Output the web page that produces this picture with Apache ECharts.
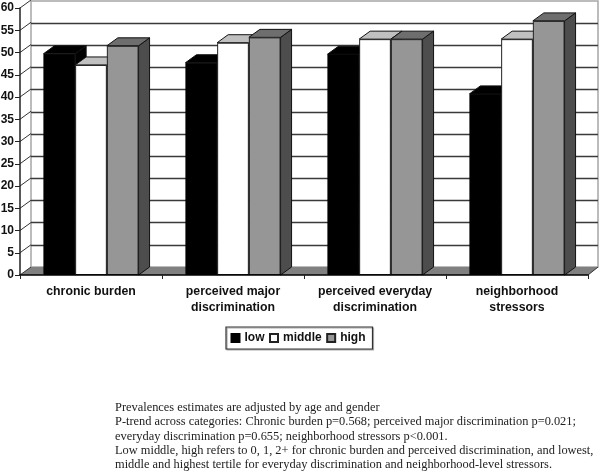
<!DOCTYPE html>
<html>
<head>
<meta charset="utf-8">
<style>html,body{margin:0;padding:0;background:#fff}#c{width:600px;height:472px}</style>
<script src="https://cdn.jsdelivr.net/npm/echarts@6/dist/echarts.min.js"></script>
</head>
<body>
<div id="c"></div>
<script>
var categories = ['chronic burden', 'perceived major\ndiscrimination', 'perceived everyday\ndiscrimination', 'neighborhood\nstressors'];
var low = [49.7, 47.7, 49.6, 40.7];
var middle = [47.2, 52.2, 53.0, 53.0];
var high = [51.5, 53.4, 53.0, 57.1];
var yTicks = [0, 5, 10, 15, 20, 25, 30, 35, 40, 45, 50, 55, 60];
var notes = [
  'Prevalences estimates are adjusted by age and gender',
  'P-trend across categories: Chronic burden p=0.568; perceived major discrimination p=0.021;',
  'everyday discrimination p=0.655; neighborhood stressors p<0.001.',
  'Low middle, high refers to 0, 1, 2+ for chronic burden and perceived discrimination, and lowest,',
  'middle and highest tertile for everyday discrimination and neighborhood-level stressors.'
];

var DX = 11, DY = 8;
var BAND_FILL = 0.67;
var FONT = '"Liberation Sans", Arial, sans-serif';

function depthSeries(name, values, seriesIndex, topColor, sideColor) {
  return {
    type: 'custom', name: name, xAxisIndex: 0, yAxisIndex: 0, z: 3 + seriesIndex * 0.1,
    silent: true, clip: false,
    data: values.map(function (v, i) { return [i, v]; }),
    encode: { x: 0, y: 1 },
    renderItem: function (params, api) {
      var c = api.coord([api.value(0), api.value(1)]);
      var base = api.coord([api.value(0), 0]);
      var band = api.size([1, 0])[0];
      var w = band * BAND_FILL / 3;
      var x0 = c[0] - band * BAND_FILL / 2 + seriesIndex * w;
      var x1 = x0 + w, y = c[1], yb = base[1];
      var ls = { stroke: '#111', lineWidth: 1, lineJoin: 'round' };
      return {
        type: 'group',
        children: [
          { type: 'polygon', shape: { points: [[x1, y], [x1 + DX, y - DY], [x1 + DX, yb - DY], [x1, yb]] },
            style: Object.assign({ fill: sideColor }, ls) },
          { type: 'polygon', shape: { points: [[x0, y], [x0 + DX, y - DY], [x1 + DX, y - DY], [x1, y]] },
            style: Object.assign({ fill: topColor }, ls) }
        ]
      };
    }
  };
}

var option = {
  animation: false,
  backgroundColor: '#fff',
  grid: [
    { left: 20, right: 12, top: 8, bottom: 197, outerBoundsMode: 'none' },
    { left: 31, right: 2, top: 1, bottom: 205, outerBoundsMode: 'none', show: true, borderColor: '#a6a6a6', borderWidth: 1.5, backgroundColor: '#fff' }
  ],
  xAxis: [
    { type: 'category', gridIndex: 0, data: categories, z: 6,
      axisLine: { lineStyle: { color: '#000', width: 1.5 } },
      axisTick: { show: true, length: 4, alignWithLabel: false, lineStyle: { color: '#222', width: 1 } },
      axisLabel: { color: '#111', fontFamily: FONT, fontWeight: 'bold', fontSize: 12.3, lineHeight: 16, margin: 9, interval: 0 }
    },
    { type: 'category', gridIndex: 1, data: categories, show: false }
  ],
  yAxis: [
    { type: 'value', gridIndex: 0, min: 0, max: 60, interval: 5, z: 6,
      axisLine: { show: true, lineStyle: { color: '#222', width: 1.5 } },
      axisTick: { show: true, length: 5, lineStyle: { color: '#222', width: 1 } },
      axisLabel: { color: '#111', fontFamily: FONT, fontWeight: 'bold', fontSize: 12, margin: 6 },
      splitLine: { show: false }
    },
    { type: 'value', gridIndex: 1, min: 0, max: 60, interval: 5,
      axisLine: { show: false }, axisTick: { show: false }, axisLabel: { show: false },
      splitLine: { show: true, showMinLine: false, showMaxLine: false, lineStyle: { color: '#3a3a3a', width: 1.3 } }
    }
  ],
  legend: {
    data: ['low', 'middle', 'high'],
    left: 226, top: 327, orient: 'horizontal',
    icon: 'rect',
    itemWidth: 8, itemHeight: 8, itemGap: 4.5,
    padding: [5, 7, 5, 4.5],
    borderColor: '#333', borderWidth: 1.2, borderRadius: 0,
    backgroundColor: '#fff',
    shadowColor: '#aaa', shadowOffsetX: 1, shadowOffsetY: 1, shadowBlur: 0,
    textStyle: { color: '#111', fontFamily: FONT, fontWeight: 'bold', fontSize: 12 },
    selectedMode: false
  },
  graphic: notes.map(function (t, i) {
    return { type: 'text', left: 115, top: 402 + i * 14.2, silent: true,
      style: { text: t, fill: '#222', font: '12.4px "Liberation Serif", "Times New Roman", serif' } };
  }),
  series: [
    { type: 'custom', name: 'floor', xAxisIndex: 0, yAxisIndex: 0, z: 1, silent: true, clip: false,
      data: [[0, 0]], encode: { x: 0, y: 1 },
      renderItem: function (params, api) {
        var s = params.coordSys, yb = s.y + s.height, xl = s.x, xr = s.x + s.width;
        return { type: 'polygon', shape: { points: [[xl, yb], [xl + DX, yb - DY], [xr + DX - 1, yb - DY], [xr, yb]] },
          style: { fill: '#808080', stroke: null } };
      }
    },
    { type: 'custom', name: 'wall', xAxisIndex: 0, yAxisIndex: 0, z: 1.5, silent: true, clip: false,
      data: yTicks.map(function (t) { return [0, t]; }), encode: { x: 0, y: 1 },
      renderItem: function (params, api) {
        var s = params.coordSys, p = api.coord([0, api.value(1)]);
        return { type: 'line', shape: { x1: s.x, y1: p[1], x2: s.x + DX, y2: p[1] - DY },
          style: { stroke: '#333', lineWidth: 1 } };
      }
    },
    { type: 'custom', name: 'floor edge', xAxisIndex: 0, yAxisIndex: 0, z: 1.5, silent: true, clip: false,
      data: [[3, 0]], encode: { x: 0, y: 1 },
      renderItem: function (params, api) {
        var s = params.coordSys, yb = s.y + s.height, xr = s.x + s.width;
        return { type: 'line', shape: { x1: xr, y1: yb, x2: xr + DX - 1, y2: yb - DY },
          style: { stroke: '#333', lineWidth: 1 } };
      }
    },
    depthSeries('low depth', low, 0, '#000', '#000'),
    depthSeries('middle depth', middle, 1, '#c0c0c0', '#8a8a8a'),
    depthSeries('high depth', high, 2, '#6e6e6e', '#4d4d4d'),
    { type: 'bar', name: 'low', data: low, xAxisIndex: 0, yAxisIndex: 0, z: 5, barGap: 0, barCategoryGap: '33%',
      itemStyle: { color: '#000', borderColor: '#000', borderWidth: 1 } },
    { type: 'bar', name: 'middle', data: middle, xAxisIndex: 0, yAxisIndex: 0, z: 5, barGap: 0, barCategoryGap: '33%',
      itemStyle: { color: '#fff', borderColor: '#222', borderWidth: 1 } },
    { type: 'bar', name: 'high', data: high, xAxisIndex: 0, yAxisIndex: 0, z: 5, barGap: 0, barCategoryGap: '33%',
      itemStyle: { color: '#969696', borderColor: '#222', borderWidth: 1 } }
  ]
};
echarts.init(document.getElementById('c'), null, { renderer: 'canvas' }).setOption(option);
</script>
</body>
</html>
